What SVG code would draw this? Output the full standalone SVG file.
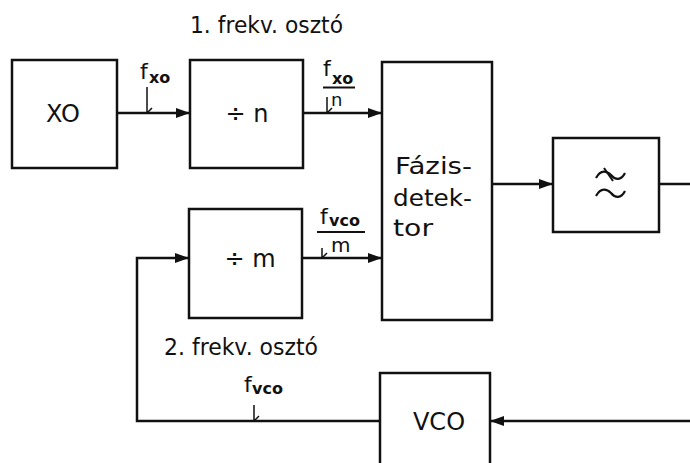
<svg xmlns="http://www.w3.org/2000/svg" width="690" height="463" viewBox="0 0 690 463">
<defs>
<marker id="arr" viewBox="0 0 14 10" refX="14" refY="5" markerWidth="14" markerHeight="10" markerUnits="userSpaceOnUse" orient="auto">
<path d="M0,0 L14,5 L0,10 Z" fill="#111"/>
</marker>
<style>
.box{fill:none;stroke:#111;stroke-width:2.5}
.ln{fill:none;stroke:#111;stroke-width:2.5}
.tk{fill:none;stroke:#111;stroke-width:1.5}
.t{font-family:"DejaVu Sans",sans-serif;fill:#111}
.lbl{font-size:24px;text-anchor:middle}
.f{font-size:22px}
.sub{font-size:16px;font-weight:bold}
</style>
</defs>
<rect width="690" height="463" fill="#fff"/>

<g id="connectors">
<path class="ln" d="M117,113 H190" marker-end="url(#arr)"/>
<path class="ln" d="M303,113 H382" marker-end="url(#arr)"/>
<path class="ln" d="M302,258 H382" marker-end="url(#arr)"/>
<path class="ln" d="M492,184 H553" marker-end="url(#arr)"/>
<path class="ln" d="M659,184 H690"/>
<path class="ln" d="M690,421 H490" marker-end="url(#arr)"/>
<path class="ln" d="M380,421 H137 V258 H189" marker-end="url(#arr)"/>
<path class="tk" d="M147,87 V113 M147,113 L152,108"/>
<path class="tk" d="M327,97 V113 M327,113 L332,108"/>
<path class="tk" d="M322,248 V258 M322,258 L327,253"/>
<path class="tk" d="M254,405 V421 M254,421 L259,416"/>
</g>

<g id="label-f-xo">
<text class="t f" x="140" y="79">f</text>
<text class="t sub" x="149" y="83">xo</text>
</g>
<g id="label-f-xo-n">
<text class="t f" x="323" y="76">f</text>
<text class="t sub" x="332" y="84">xo</text>
<line class="tk" x1="323" y1="87.5" x2="355" y2="87.5" style="stroke-width:2"/>
<text class="t" x="331" y="106" style="font-size:18px">n</text>
</g>
<g id="label-f-vco-m">
<text class="t f" x="320" y="224">f</text>
<text class="t sub" x="329" y="226">vco</text>
<line class="tk" x1="317" y1="232" x2="365" y2="232" style="stroke-width:2"/>
<text class="t" x="331" y="252" style="font-size:20px">m</text>
</g>
<g id="label-f-vco">
<text class="t f" x="244" y="392">f</text>
<text class="t sub" x="252" y="394">vco</text>
</g>

<g id="title1">
<text class="t" x="190" y="33" style="font-size:23px" textLength="153" lengthAdjust="spacingAndGlyphs">1. frekv. osztó</text>
</g>
<g id="title2">
<text class="t" x="164" y="355" style="font-size:23px" textLength="154" lengthAdjust="spacingAndGlyphs">2. frekv. osztó</text>
</g>

<g id="node-xo">
<rect class="box" x="12" y="60" width="105" height="108"/>
<text class="t lbl" x="63" y="122">XO</text>
</g>
<g id="node-div-n">
<rect class="box" x="190" y="60" width="113" height="108"/>
<text class="t lbl" x="247" y="122">÷ n</text>
</g>
<g id="node-div-m">
<rect class="box" x="189" y="209" width="113" height="109"/>
<text class="t lbl" x="250" y="267">÷ m</text>
</g>
<g id="node-phase">
<rect class="box" x="382" y="62" width="110" height="258"/>
<text class="t" x="395" y="174" style="font-size:23px" textLength="77" lengthAdjust="spacingAndGlyphs">Fázis-</text>
<text class="t" x="393" y="206" style="font-size:23px" textLength="79" lengthAdjust="spacingAndGlyphs">detek-</text>
<text class="t" x="393" y="236" style="font-size:23px" textLength="40" lengthAdjust="spacingAndGlyphs">tor</text>
</g>
<g id="node-filter">
<rect class="box" x="553" y="138" width="106" height="94"/>
<path class="ln" d="M596,178 C601,169 607,171 611,175 C615,180 621,181 625,173" style="stroke-width:2.2"/>
<path class="ln" d="M604,168 L613,181" style="stroke-width:2"/>
<path class="ln" d="M596,196 C601,187 607,189 611,193 C615,198 621,199 625,191" style="stroke-width:2.2"/>
</g>
<g id="node-vco">
<path class="box" d="M380,470 V373 H490 V470"/>
<text class="t lbl" x="439" y="430">VCO</text>
</g>
</svg>
